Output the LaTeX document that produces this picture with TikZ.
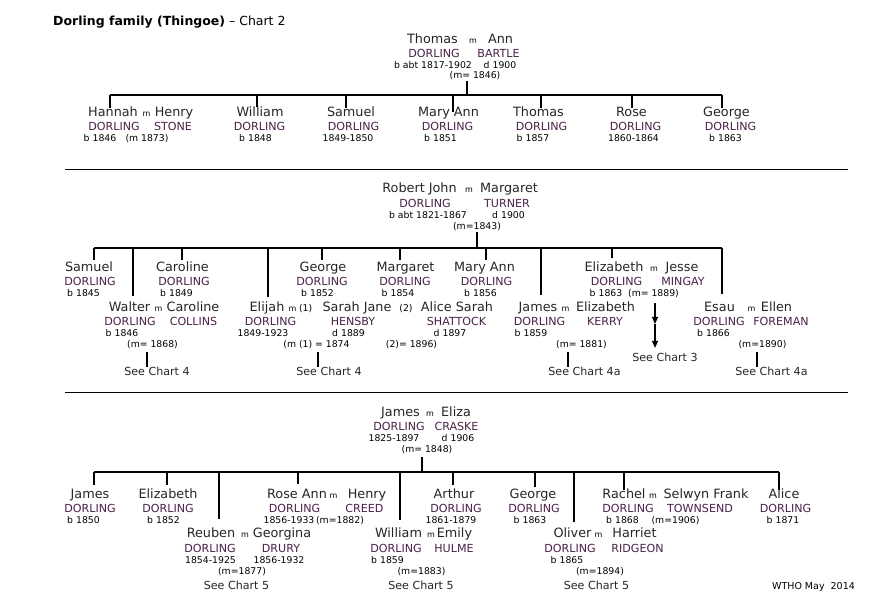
\documentclass[tikz,border=0pt]{standalone}
\usepackage{fontspec}
\setmainfont{DejaVu Sans}
\usetikzlibrary{arrows.meta}
\definecolor{ChartInk}{HTML}{262626}
\definecolor{ChartPlum}{HTML}{4A2248}

\begin{document}
\begin{tikzpicture}[x=1pt,y=-1pt,>={Triangle[width=6pt,length=7pt]},
  nm/.style={anchor=base,inner sep=0pt,text=ChartInk,font=\fontsize{12.8}{15}\selectfont},
  sn/.style={anchor=base,inner sep=0pt,text=ChartPlum,font=\fontsize{11.1}{13}\selectfont},
  dt/.style={anchor=base,inner sep=0pt,text=black,font=\fontsize{9.3}{11}\selectfont},
  mr/.style={anchor=base,inner sep=0pt,text=black,font=\fontsize{8}{10}\selectfont},
  see/.style={anchor=base,inner sep=0pt,text=ChartInk,font=\fontsize{11.1}{13}\selectfont},
  link/.style={line width=1.1pt},
  rule/.style={line width=1pt}]
  \useasboundingbox[fill=white] (0,0) rectangle (894,609);

  \node[anchor=base west,inner sep=0pt,font=\fontsize{12.5}{15}\selectfont] (title) at (53,26)
    {\textbf{Dorling family (Thingoe)} -- Chart 2};

  % --- Thomas and Ann
  \node[nm] (thomasN) at (432.5,44) {Thomas};
  \node[mr] (thomasM) at (473,44) {m};
  \node[nm] (annN) at (500.5,44) {Ann};
  \node[sn] (thomasS) at (434,58) {DORLING};
  \node[sn] (annS) at (498.5,58) {BARTLE};
  \node[dt] (thomasD) at (433,69) {b abt 1817-1902};
  \node[dt] (annD) at (500,69) {d 1900};
  \node[dt] (m1846) at (475,79) {(m= 1846)};

  \node[nm] (hannahN) at (113,117) {Hannah};
  \node[mr] (hannahM) at (146.5,117) {m};
  \node[nm] (henryN) at (174,117) {Henry};
  \node[sn] (hannahS) at (114,131) {DORLING};
  \node[sn] (henryS) at (173,131) {STONE};
  \node[dt] (hannahD) at (100,142) {b 1846};
  \node[dt] (m1873) at (147,142) {(m 1873)};
  \node[nm] (williamN) at (260,117) {William};
  \node[sn] (williamS) at (259.5,131) {DORLING};
  \node[dt] (williamD) at (255.5,142) {b 1848};
  \node[nm] (samuelN) at (351,117) {Samuel};
  \node[sn] (samuelS) at (353.5,131) {DORLING};
  \node[dt] (samuelD) at (348,142) {1849-1850};
  \node[nm] (maryN) at (448.5,117) {Mary Ann};
  \node[sn] (maryS) at (447.5,131) {DORLING};
  \node[dt] (maryD) at (440.5,142) {b 1851};
  \node[nm] (thomasjN) at (538.5,117) {Thomas};
  \node[sn] (thomasjS) at (541.5,131) {DORLING};
  \node[dt] (thomasjD) at (533,142) {b 1857};
  \node[nm] (roseN) at (631.5,117) {Rose};
  \node[sn] (roseS) at (635.5,131) {DORLING};
  \node[dt] (roseD) at (633.5,142) {1860-1864};
  \node[nm] (georgeN) at (726.5,117) {George};
  \node[sn] (georgeS) at (730.5,131) {DORLING};
  \node[dt] (georgeD) at (725.5,142) {b 1863};

  \coordinate (stem1) at (467,95);
  \coordinate (hannahTop) at (110,108);
  \coordinate (williamTop) at (257,107);
  \coordinate (samuelTop) at (346,108);
  \coordinate (maryTop) at (453,112);
  \coordinate (thomasjTop) at (541,108);
  \coordinate (roseTop) at (632,108);
  \coordinate (georgeTop) at (722,108);
  \draw[link,shorten <=1pt] (stem1 |- m1846.south) -- (stem1);
  \draw[link] (hannahTop |- stem1) -- (georgeTop |- stem1);
  \foreach \c in {hannahTop,williamTop,samuelTop,maryTop,thomasjTop,roseTop,georgeTop}
    \draw[link] (\c |- stem1) -- (\c);

  \draw[rule] (65,170) coordinate (rule1L) -- (848,170) coordinate (rule1R);

  % --- Robert John and Margaret
  \node[nm] (robertN) at (419.5,193) {Robert John};
  \node[mr] (robertM) at (469,193) {m};
  \node[nm] (margaretN) at (509,193) {Margaret};
  \node[sn] (robertS) at (425,208) {DORLING};
  \node[sn] (margaretS) at (507,208) {TURNER};
  \node[dt] (robertD) at (428,219) {b abt 1821-1867};
  \node[dt] (margaretD) at (508.5,219) {d 1900};
  \node[dt] (m1843) at (477,229.5) {(m=1843)};

  \node[nm] (samuel2N) at (89,272) {Samuel};
  \node[sn] (samuel2S) at (90,286) {DORLING};
  \node[dt] (samuel2D) at (83.5,297) {b 1845};
  \node[nm] (carolineN) at (182.5,272) {Caroline};
  \node[sn] (carolineS) at (184,286) {DORLING};
  \node[dt] (carolineD) at (176.5,297) {b 1849};
  \node[nm] (george2N) at (323,272) {George};
  \node[sn] (george2S) at (322,286) {DORLING};
  \node[dt] (george2D) at (317.5,297) {b 1852};
  \node[nm] (margaret2N) at (405.5,272) {Margaret};
  \node[sn] (margaret2S) at (405,286) {DORLING};
  \node[dt] (margaret2D) at (398,297) {b 1854};
  \node[nm] (maryann2N) at (484.5,272) {Mary Ann};
  \node[sn] (maryann2S) at (486.5,286) {DORLING};
  \node[dt] (maryann2D) at (480.5,297) {b 1856};
  \node[nm] (elizabethN) at (614,272) {Elizabeth};
  \node[mr] (elizabethM) at (654,272) {m};
  \node[nm] (jesseN) at (682,272) {Jesse};
  \node[sn] (elizabethS) at (616.5,286) {DORLING};
  \node[sn] (jesseS) at (683,286) {MINGAY};
  \node[dt] (elizabethD) at (606,297) {b 1863};
  \node[dt] (m1889) at (653.5,297) {(m= 1889)};

  \node[nm] (walterN) at (129.5,312) {Walter};
  \node[mr] (walterM) at (158.5,312) {m};
  \node[nm] (caroline2N) at (193,312) {Caroline};
  \node[sn] (walterS) at (130,326) {DORLING};
  \node[sn] (caroline2S) at (193.5,326) {COLLINS};
  \node[dt] (walterD) at (122,337) {b 1846};
  \node[dt] (m1868) at (152.5,348) {(m= 1868)};
  \node[see] (walterSee) at (157,376) {See Chart 4};

  \node[nm] (elijahN) at (267,312) {Elijah};
  \node[mr] (elijahM) at (300.5,312) {m \fontsize{9.3}{11}\selectfont(1)};
  \node[nm] (sarahN) at (357,312) {Sarah Jane};
  \node[dt] (aliceMk) at (406,312) {(2)};
  \node[nm] (aliceN) at (457,312) {Alice Sarah};
  \node[sn] (elijahS) at (270.5,326) {DORLING};
  \node[sn] (sarahS) at (353,326) {HENSBY};
  \node[sn] (aliceS) at (456.5,326) {SHATTOCK};
  \node[dt] (elijahD) at (263,337) {1849-1923};
  \node[dt] (sarahD) at (348.5,337) {d 1889};
  \node[dt] (aliceD) at (450,337) {d 1897};
  \node[dt] (m1874) at (316.5,348) {(m (1) = 1874};
  \node[dt] (m1896) at (411.5,348) {(2)= 1896)};
  \node[see] (elijahSee) at (329,376) {See Chart 4};

  \node[nm] (jamesN) at (538,312) {James};
  \node[mr] (jamesM) at (565.5,312) {m};
  \node[nm] (elizabeth2N) at (605.5,312) {Elizabeth};
  \node[sn] (jamesS) at (539.5,326) {DORLING};
  \node[sn] (elizabeth2S) at (605,326) {KERRY};
  \node[dt] (jamesD) at (531,337) {b 1859};
  \node[dt] (m1881) at (581.5,348) {(m= 1881)};
  \node[see] (jamesSee) at (584.5,376) {See Chart 4a};

  \node[see] (elizabethSee) at (665,362) {See Chart 3};

  \node[nm] (esauN) at (719.5,312) {Esau};
  \node[mr] (esauM) at (751.5,312) {m};
  \node[nm] (ellenN) at (776.5,312) {Ellen};
  \node[sn] (esauS) at (719,326) {DORLING};
  \node[sn] (ellenS) at (781,326) {FOREMAN};
  \node[dt] (esauD) at (713.5,337) {b 1866};
  \node[dt] (m1890) at (762.5,348) {(m=1890)};
  \node[see] (esauSee) at (771.5,376) {See Chart 4a};

  \coordinate (stem2) at (477,248);
  \coordinate (samuel2Top) at (94,260);
  \coordinate (walterTop) at (133,296);
  \coordinate (carolineTop) at (182,260);
  \coordinate (elijahTop) at (268,297);
  \coordinate (george2Top) at (322,260);
  \coordinate (margaret2Top) at (400,260);
  \coordinate (maryann2Top) at (486,260);
  \coordinate (jamesTop) at (541,295);
  \coordinate (elizabethTop) at (612,258);
  \coordinate (esauTop) at (722,294);
  \draw[link,shorten <=1pt] (stem2 |- m1843.south) -- (stem2);
  \draw[link] (samuel2Top |- stem2) -- (esauTop |- stem2);
  \foreach \c in {samuel2Top,walterTop,carolineTop,elijahTop,george2Top,margaret2Top,maryann2Top,jamesTop,elizabethTop,esauTop}
    \draw[link] (\c |- stem2) -- (\c);

  \coordinate (walterStem) at (147,360);
  \coordinate (elijahStem) at (318,360);
  \coordinate (jamesStem) at (568,360);
  \coordinate (esauStem) at (757,360);
  \draw[link,shorten <=2.5pt] (walterStem |- m1868.south) -- (walterStem |- walterSee.north);
  \draw[link,shorten <=2.5pt] (elijahStem |- m1874.south) -- (elijahStem |- elijahSee.north);
  \draw[link,shorten <=2.5pt] (jamesStem |- m1881.south) -- (jamesStem |- jamesSee.north);
  \draw[link,shorten <=2.5pt] (esauStem |- m1890.south) -- (esauStem |- esauSee.north);

  \coordinate (mingayMid) at (655,324);
  \draw[link,->,shorten <=5pt] (mingayMid |- m1889.south) -- (mingayMid);
  \draw[link,->,shorten >=5.5pt] (mingayMid) -- (mingayMid |- elizabethSee.north);

  \draw[rule] (65,392) coordinate (rule2L) -- (848,392) coordinate (rule2R);

  % --- James and Eliza
  \node[nm] (jamesPN) at (400.5,416) {James};
  \node[mr] (jamesPM) at (430,416) {m};
  \node[nm] (elizaN) at (456,416) {Eliza};
  \node[sn] (jamesPS) at (399,430) {DORLING};
  \node[sn] (elizaS) at (456.5,430) {CRASKE};
  \node[dt] (jamesPD) at (394,441) {1825-1897};
  \node[dt] (elizaD) at (458,441) {d 1906};
  \node[dt] (m1848) at (427,452) {(m= 1848)};

  \node[nm] (james3N) at (90,498) {James};
  \node[sn] (james3S) at (90,512) {DORLING};
  \node[dt] (james3D) at (83.5,523) {b 1850};
  \node[nm] (elizabeth3N) at (168,498) {Elizabeth};
  \node[sn] (elizabeth3S) at (168,512) {DORLING};
  \node[dt] (elizabeth3D) at (163.5,523) {b 1852};
  \node[nm] (roseannN) at (297,498) {Rose Ann};
  \node[mr] (roseannM) at (333.5,498) {m};
  \node[nm] (henry2N) at (367,498) {Henry};
  \node[sn] (roseannS) at (294.5,512) {DORLING};
  \node[sn] (henry2S) at (364.5,512) {CREED};
  \node[dt] (roseannD) at (289,523) {1856-1933};
  \node[dt] (m1882) at (340,523) {(m=1882)};
  \node[nm] (arthurN) at (454,498) {Arthur};
  \node[sn] (arthurS) at (456,512) {DORLING};
  \node[dt] (arthurD) at (451,523) {1861-1879};
  \node[nm] (george3N) at (533,498) {George};
  \node[sn] (george3S) at (534,512) {DORLING};
  \node[dt] (george3D) at (530,523) {b 1863};
  \node[nm] (rachelN) at (624,498) {Rachel};
  \node[mr] (rachelM) at (653,498) {m};
  \node[nm] (selwynN) at (706,498) {Selwyn Frank};
  \node[sn] (rachelS) at (628,512) {DORLING};
  \node[sn] (selwynS) at (700,512) {TOWNSEND};
  \node[dt] (rachelD) at (622.5,523) {b 1868};
  \node[dt] (m1906) at (675.5,523) {(m=1906)};
  \node[nm] (alice3N) at (784,498) {Alice};
  \node[sn] (alice3S) at (785.5,512) {DORLING};
  \node[dt] (alice3D) at (783,523) {b 1871};

  \node[nm] (reubenN) at (211,537) {Reuben};
  \node[mr] (reubenM) at (245,537) {m};
  \node[nm] (georginaN) at (282,537) {Georgina};
  \node[sn] (reubenS) at (210,552) {DORLING};
  \node[sn] (georginaS) at (281,552) {DRURY};
  \node[dt] (reubenD) at (210.5,563) {1854-1925};
  \node[dt] (georginaD) at (279,563) {1856-1932};
  \node[dt] (m1877) at (242,574) {(m=1877)};
  \node[see] (reubenSee) at (236.5,589) {See Chart 5};
  \node[nm] (william3N) at (398.5,537) {William};
  \node[mr] (william3M) at (431,537) {m};
  \node[nm] (emilyN) at (454.5,537) {Emily};
  \node[sn] (william3S) at (396,552) {DORLING};
  \node[sn] (emilyS) at (454,552) {HULME};
  \node[dt] (william3D) at (387.5,563) {b 1859};
  \node[dt] (m1883) at (421.5,574) {(m=1883)};
  \node[see] (william3See) at (421,589) {See Chart 5};
  \node[nm] (oliverN) at (572.5,537) {Oliver};
  \node[mr] (oliverM) at (598.5,537) {m};
  \node[nm] (harrietN) at (634.5,537) {Harriet};
  \node[sn] (oliverS) at (570,552) {DORLING};
  \node[sn] (harrietS) at (637.5,552) {RIDGEON};
  \node[dt] (oliverD) at (567,563) {b 1865};
  \node[dt] (m1894) at (600,574) {(m=1894)};
  \node[see] (oliverSee) at (596.5,589) {See Chart 5};

  \coordinate (stem3) at (422,472);
  \coordinate (james3Top) at (94,485);
  \coordinate (elizabeth3Top) at (167,485);
  \coordinate (reubenTop) at (219,519);
  \coordinate (roseannTop) at (298,484);
  \coordinate (william3Top) at (400,520);
  \coordinate (arthurTop) at (453,485);
  \coordinate (george3Top) at (535,487);
  \coordinate (oliverTop) at (574,522);
  \coordinate (rachelTop) at (624,490);
  \coordinate (alice3Top) at (779,490);
  \draw[link,shorten <=4pt] (stem3 |- m1848.south) -- (stem3);
  \draw[link] (james3Top |- stem3) -- (alice3Top |- stem3);
  \foreach \c in {james3Top,elizabeth3Top,reubenTop,roseannTop,william3Top,arthurTop,george3Top,oliverTop,rachelTop,alice3Top}
    \draw[link] (\c |- stem3) -- (\c);

  \node[dt,font=\fontsize{9.5}{11}\selectfont] (wtho) at (813.5,589) {WTHO May\ \ 2014};
\end{tikzpicture}
\end{document}
